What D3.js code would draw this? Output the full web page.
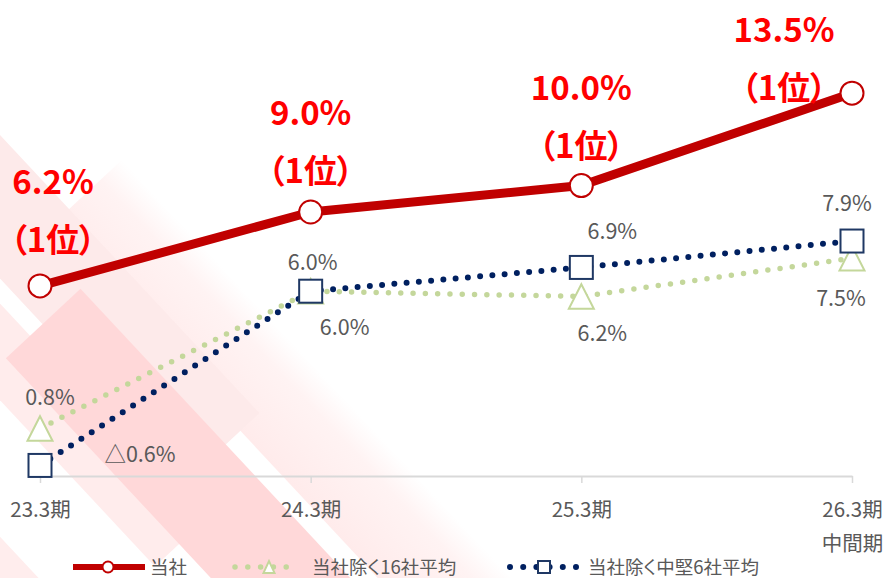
<!DOCTYPE html>
<html>
<head>
<meta charset="utf-8">
<script src="https://cdn.jsdelivr.net/npm/d3@7"></script>
<style>
  html, body { margin: 0; padding: 0; background: #ffffff; }
  svg { display: block; font-family: "Noto Sans CJK JP", "Noto Sans", sans-serif; font-feature-settings: "palt"; }
</style>
</head>
<body>
<svg id="chart" width="884" height="578"></svg>
<script>
// ---- data ----
const categories = ["23.3期", "24.3期", "25.3期", "26.3期"];
const categorySubLabels = ["", "", "", "中間期"];
const seriesNames = ["当社", "当社除く16社平均", "当社除く中堅6社平均"];
const ownValues = [6.2, 9.0, 10.0, 13.5];
const avg16Values = [0.8, 6.0, 5.8, 7.25];
const mid6Values = [-0.6, 6.0, 6.9, 7.9];
const ownLabels = ["6.2%", "9.0%", "10.0%", "13.5%"];
const ownRankLabels = ["（1位）", "（1位）", "（1位）", "（1位）"];
const avg16Labels = ["0.8%", "6.0%", "6.2%", "7.5%"];
const mid6Labels = ["△0.6%", "6.0%", "6.9%", "7.9%"];
const yDomain = [-1, 14];

// ---- setup ----
const svg = d3.select("#chart");
const x = d3.scalePoint().domain(categories).range([40, 852]);
const y = d3.scaleLinear().domain(yDomain).range([476, 80]);

const RED = "#c00000", LABEL_RED = "#ff0000", GREEN = "#c4d79b", NAVY_DOT = "#002060", NAVY_SQ = "#1f3864", GRAY = "#595959";

// ---- decorative diagonal background stripes ----
const defs = svg.append("defs");
const grad = defs.append("linearGradient").attr("id", "fadeBand")
  .attr("gradientUnits", "userSpaceOnUse").attr("x1", 0).attr("y1", 20).attr("x2", 0).attr("y2", 118);
grad.append("stop").attr("offset", 0).attr("stop-color", "#ffffff");
grad.append("stop").attr("offset", 0.3).attr("stop-color", "#fff3f3");
grad.append("stop").attr("offset", 1).attr("stop-color", "#ffebeb");

const deco = svg.append("g").attr("transform", "rotate(47)");
const bands = [
  {a0: -200, a1: 1300, b0: 366, b1: 600, fill: "#ffeded"},
  {a0: -200, a1: 520,  b0: 207, b1: 273, fill: "#ffecec"},
  {a0: 200,  a1: 1300, b0: 20,  b1: 118, fill: "url(#fadeBand)"},
  {a0: -200, a1: 479,  b0: 92,  b1: 190, fill: "#fdeaea"},
  {a0: 266,  a1: 1300, b0: 138, b1: 240, fill: "#ffd8d9"}
];
deco.selectAll("rect").data(bands).join("rect")
  .attr("x", d => d.a0).attr("y", d => d.b0)
  .attr("width", d => d.a1 - d.a0).attr("height", d => d.b1 - d.b0)
  .attr("fill", d => d.fill);

// ---- axis ----
const axis = d3.axisBottom(x).tickSize(7).tickSizeOuter(0).tickPadding(0);
const axG = svg.append("g").attr("transform", `translate(0,${y(yDomain[0])})`).call(axis);
axG.select(".domain").attr("stroke", "#d9d9d9").attr("stroke-width", 2);
axG.selectAll(".tick line").attr("stroke", "#d9d9d9").attr("stroke-width", 1.5);
axG.selectAll(".tick text").each(function(d) {
  const t = d3.select(this);
  t.text(null).attr("y", 0).attr("dy", null)
    .attr("fill", GRAY).attr("font-size", 20.5).attr("font-family", "Noto Sans CJK JP");
  t.append("tspan").attr("x", 0).attr("y", 41).text(d);
  const sub = categorySubLabels[categories.indexOf(d)];
  if (sub) t.append("tspan").attr("x", 0).attr("y", 75).text(sub);
});

// ---- lines ----
const line = d3.line().x((d, i) => x(categories[i])).y(d => y(d));

svg.append("path").datum(avg16Values).attr("d", line)
  .attr("fill", "none").attr("stroke", GREEN).attr("stroke-width", 5.5)
  .attr("stroke-linecap", "round").attr("stroke-dasharray", "0 12.3");

svg.append("path").datum(mid6Values).attr("d", line)
  .attr("fill", "none").attr("stroke", NAVY_DOT).attr("stroke-width", 6)
  .attr("stroke-linecap", "round").attr("stroke-dasharray", "0 12.3");

svg.append("path").datum(ownValues).attr("d", line)
  .attr("fill", "none").attr("stroke", RED).attr("stroke-width", 9)
  .attr("stroke-linejoin", "round");

// ---- markers ----
function triPath(s) { const h = s * 0.9; return `M0,${-h/2 - 1}L${s/2},${h/2 + 1}L${-s/2},${h/2 + 1}Z`; }

svg.append("g").selectAll("path").data(avg16Values).join("path")
  .attr("transform", (d, i) => `translate(${x(categories[i])},${y(d)})`)
  .attr("d", triPath(25)).attr("fill", "#ffffff").attr("stroke", GREEN).attr("stroke-width", 2);

svg.append("g").selectAll("rect").data(mid6Values).join("rect")
  .attr("x", (d, i) => x(categories[i]) - 11.5).attr("y", d => y(d) - 11.5)
  .attr("width", 23).attr("height", 23)
  .attr("fill", "#ffffff").attr("stroke", NAVY_SQ).attr("stroke-width", 2);

svg.append("g").selectAll("circle").data(ownValues).join("circle")
  .attr("cx", (d, i) => x(categories[i])).attr("cy", d => y(d)).attr("r", 11.5)
  .attr("fill", "#ffffff").attr("stroke", RED).attr("stroke-width", 2);

// ---- red labels ----
const ownLabelPos = [ {dx: 13, dy: -92}, {dx: 0, dy: -87}, {dx: 0, dy: -86}, {dx: -68, dy: -51} ];
const redG = svg.append("g").attr("fill", LABEL_RED).attr("font-weight", "bold").attr("text-anchor", "middle").attr("font-size", 33);
ownValues.forEach((v, i) => {
  const cx = x(categories[i]) + ownLabelPos[i].dx;
  const by = y(v) + ownLabelPos[i].dy;
  redG.append("text").attr("x", cx).attr("y", by).text(ownLabels[i]);
  redG.append("text").attr("x", cx).attr("y", by + 58).text(ownRankLabels[i]);
});

// ---- gray labels ----
const grayG = svg.append("g").attr("fill", GRAY).attr("text-anchor", "middle").attr("font-size", 21.5);
const avg16Pos = [ {dx: 10, dy: -23}, {dx: 34, dy: 44}, {dx: 21, dy: 45}, {dx: -11, dy: 48} ];
const mid6Pos = [ {dx: 100, dy: -3}, {dx: 2, dy: -21}, {dx: 31, dy: -28}, {dx: -5, dy: -30} ];
avg16Values.forEach((v, i) => {
  grayG.append("text").attr("x", x(categories[i]) + avg16Pos[i].dx).attr("y", y(v) + avg16Pos[i].dy).text(avg16Labels[i]);
});
mid6Values.forEach((v, i) => {
  grayG.append("text").attr("x", x(categories[i]) + mid6Pos[i].dx).attr("y", y(v) + mid6Pos[i].dy).text(mid6Labels[i]);
});

// ---- legend ----
const lg = svg.append("g").attr("transform", "translate(0,567)");
lg.append("line").attr("x1", 73).attr("x2", 145).attr("y1", 0).attr("y2", 0).attr("stroke", RED).attr("stroke-width", 6);
lg.append("circle").attr("cx", 108).attr("cy", 0).attr("r", 5.5).attr("fill", "#fff").attr("stroke", RED).attr("stroke-width", 2);
lg.append("line").attr("x1", 235).attr("x2", 299).attr("y1", 0).attr("y2", 0).attr("stroke", GREEN).attr("stroke-width", 5.5)
  .attr("stroke-linecap", "round").attr("stroke-dasharray", "0 12.8");
lg.append("path").attr("transform", "translate(269,0)").attr("d", triPath(11)).attr("fill", "#fff").attr("stroke", GREEN).attr("stroke-width", 2);
lg.append("line").attr("x1", 510).attr("x2", 576).attr("y1", 0).attr("y2", 0).attr("stroke", NAVY_DOT).attr("stroke-width", 6)
  .attr("stroke-linecap", "round").attr("stroke-dasharray", "0 13.2");
lg.append("rect").attr("x", 538).attr("y", -6).attr("width", 12).attr("height", 12).attr("fill", "#fff").attr("stroke", NAVY_SQ).attr("stroke-width", 2);

const legendTextX = [150, 312, 588];
lg.selectAll("text").data(seriesNames).join("text")
  .attr("x", (d, i) => legendTextX[i]).attr("y", 7)
  .attr("fill", GRAY).attr("font-size", 18.5).text(d => d);
</script>
</body>
</html>
